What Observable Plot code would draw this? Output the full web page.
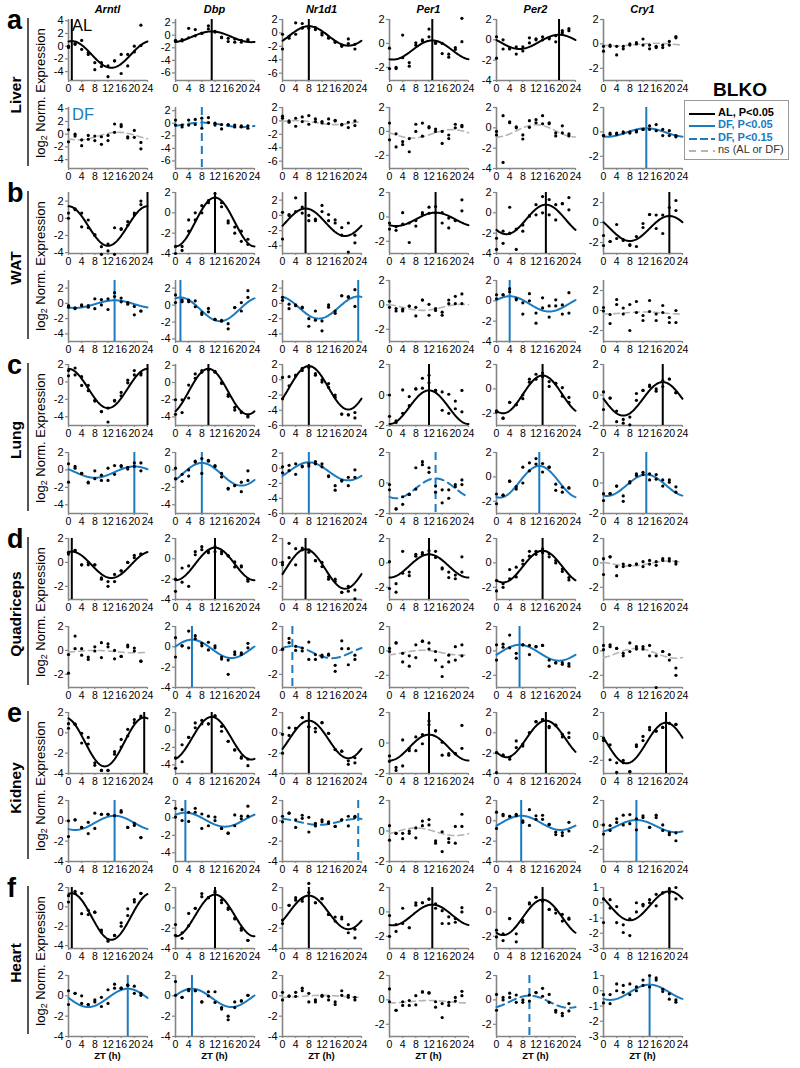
<!DOCTYPE html>
<html><head><meta charset="utf-8">
<script src="https://cdn.jsdelivr.net/npm/d3@7"></script>
<script src="https://cdn.jsdelivr.net/npm/@observablehq/plot@0.6"></script>
<style>
body{margin:0;background:#fff;font-family:"Liberation Sans",Arial,Helvetica,sans-serif;}
#page{position:relative;width:800px;height:1068px;overflow:hidden;background:#fff;}
.abs{position:absolute;white-space:nowrap;}
.rot{transform:translate(-50%,-50%) rotate(-90deg);}
.panel svg{overflow:visible;}
</style></head><body><div id="page"></div>
<script>
// ---------------- DATA ----------------
const genes = ["Arntl","Dbp","Nr1d1","Per1","Per2","Cry1"];
const tissues = ["Liver","WAT","Lung","Quadriceps","Kidney","Heart"];
const panelLetters = ["a","b","c","d","e","f"];
const diets = ["AL","DF"];
const ztTimes = [0,2,4,6,8,10,12,14,16,18,20,22];
const xTickValues = [0,4,8,12,16,20,24];
const legendLabels = ["AL, P<0.05","DF, P<0.05","DF, P<0.15","ns (AL or DF)"];
const legendKeys = ["AL","DF","DF15","ns"];

// values: per gene, two replicates per ZT (ZT0 a,b, ZT2 a,b, ...)
// fits: [mesor, amplitude, acrophase ZT]; sig: AL / DF / DF15 / ns; y: [min, max, tick step]
const liverAL_vals = [
 [0.0,-0.2, 0.4,0.3, 0.9,-0.5, -1.0,-1.3, -2.6,-3.7, -2.6,-3.2, -3.1,-4.8, -2.3,-2.3, -1.3,-4.3, -1.3,-3.1, 0.0,-0.9, 3.3,0.1],
 [-0.8,-1.0, -0.9,-0.7, 1.1,-0.4, 0.9,-0.1, 0.3,0.3, 1.5,1.0, 0.5,0.6, -0.3,-0.4, -0.5,-1.0, -0.6,-1.1, -0.8,-1.1, -0.9,-0.7],
 [-0.2,-2.4, -0.5,-0.8, 1.5,-0.2, 1.4,0.7, 1.0,0.7, 0.8,0.5, 0.0,-0.3, -0.6,-0.8, -1.4,-1.3, -2.0,-1.8, -0.9,-1.6, -2.4,-1.7],
 [-0.4,-2.1, -2.0,-2.1, 0.7,-1.2, -1.6,-1.9, 0.05,-0.15, 0.3,0.2, 1.2,0.55, 0.0,0.1, -0.85,0.0, -1.15,-0.9, -0.35,-0.5, 2.1,0.15],
 [0.3,-1.8, 0.0,-0.9, -0.8,-0.9, -0.7,-1.4, -0.7,-1.1, 0.2,-0.3, 0.1,0.0, 0.3,0.0, 0.2,0.1, 0.4,-0.2, 0.9,0.7, 1.1,0.9],
 [-0.2,-0.6, -0.1,-0.2, -0.2,-0.9, -0.2,-0.4, 0.0,-0.1, 0.1,0.0, 0.4,-0.1, -0.1,-0.4, -0.2,-0.3, -0.1,-0.3, 0.2,-0.1, 0.6,0.5]];
const liverAL_fit = [[-1.3,2.1,1],[-0.25,0.85,11],[-0.45,1.45,8],[-0.55,0.8,13],[-0.2,0.7,19],[-0.05,0.1,16]];
const liverAL_sig = ["AL","AL","AL","AL","AL","ns"];
const liverAL_y = [[-5.4,4.2,2],[-7.2,2.5,2],[-7.1,2,2],[-3.1,2,2],[-4,2,2],[-3,2,2]];

const liverDF_vals = [
 [0.7,-1.2, 0.0,-0.3, -0.9,-1.8, -0.2,-0.8, -0.3,-1.0, -0.4,-1.6, -0.2,-1.0, 1.6,0.3, 1.5,1.2, -0.4,-0.6, 0.6,-0.5, -1.3,-2.3],
 [0.5,-0.3, -0.3,-0.6, 0.5,-0.3, 0.6,-0.2, 0.8,-0.8, 0.9,0.1, 0.0,-0.3, -0.9,-0.2, -0.2,-0.3, -0.3,-0.6, -0.6,-0.4, -0.4,-0.8],
 [0.7,0.4, 0.0,-0.2, 0.4,-0.8, 0.6,-0.1, 0.8,-0.5, 0.3,-0.1, -0.1,-0.3, 0.3,-0.4, 0.0,0.1, -0.5,-0.6, -0.2,-1.0, 0.0,-0.7],
 [0.7,-0.7, -1.3,-0.2, -0.85,-1.1, -0.6,-1.7, 0.6,0.0, 0.7,-0.4, 0.4,0.3, 0.0,0.2, 0.0,-1.0, -0.3,-0.6, 0.6,0.3, 0.5,0.4],
 [-0.35,-0.7, 1.2,-3.4, 0.6,0.5, 0.1,0.0, -0.7,-1.1, 0.7,0.05, 0.8,0.5, 1.2,0.4, 0.5,0.4, -0.5,-0.8, 0.2,-0.5, -0.6,-0.8],
 [-0.3,-0.3, -0.1,-0.2, -0.1,-0.2, 0.0,-0.1, 0.0,-0.1, 0.1,0.0, 0.2,0.2, 0.5,0.2, 0.6,0.1, 0.2,-0.3, 0.1,-0.3, -0.3,-0.4]];
const liverDF_fit = [[-0.3,0.6,15],[-0.25,0.35,8],[-0.25,0.3,4],[-0.2,0.35,19],[-0.3,0.6,12],[-0.05,0.35,13]];
const liverDF_sig = ["ns","DF15","ns","ns","ns","DF"];
const liverDF_y = [[-5.4,4.2,2],[-7.2,2.5,2],[-7.1,2,2],[-3.1,2,2],[-4,2,2],[-3,2,2]];

const watAL_vals = [
 [0.6,0.0, 1.1,1.0, 0.6,-1.0, -0.2,-1.1, -1.9,-2.0, -3.3,-4.2, -3.0,-3.8, -1.1,-4.2, -1.3,-1.2, -0.4,-0.8, 0.6,0.4, 2.0,1.6],
 [-3.3,-4.0, -3.3,-3.7, -1.8,-0.7, 0.0,-0.7, 0.7,0.0, 1.2,1.0, 1.9,1.5, 1.0,0.6, -0.8,-1.0, -1.4,-2.0, -1.8,-2.8, -2.6,-3.1],
 [0.4,-3.1, 0.1,0.0, 2.3,0.5, 1.1,0.3, 0.0,-0.7, -0.5,-0.7, 1.3,0.5, 0.1,-0.7, -0.6,-1.0, -1.6,-2.6, -1.0,-4.8, -2.6,-3.6],
 [-0.5,-1.0, -1.1,-0.8, 0.35,-0.6, -0.5,-2.1, -0.3,-0.75, 0.35,0.2, 0.8,0.3, 0.85,0.35, 0.35,-0.5, -0.1,-0.9, -0.3,-0.3, 1.4,0.5],
 [-2.5,-3.6, -1.8,-3.0, 0.55,-2.0, -1.6,-3.6, -1.2,-1.8, -0.3,-0.3, 0.8,-0.2, 1.6,0.0, 1.3,-0.2, 0.8,-0.7, 0.9,0.9, 1.5,0.3],
 [-1.3,-2.3, -1.9,-1.9, -0.2,-1.6, -1.8,-1.7, -2.2,-2.3, -1.4,-2.4, -0.1,-0.5, 0.8,0.8, 0.75,-0.6, 0.75,-1.1, 1.5,0.65, 2.2,1.2]];
const watAL_fit = [[-0.9,2.3,24],[-0.9,2.4,12],[-0.9,1.8,7],[-0.2,0.55,14],[-0.65,1.45,15],[-0.6,1.25,20]];
const watAL_sig = ["AL","AL","AL","AL","AL","AL"];
const watAL_y = [[-4.1,3,2],[-4,2,2],[-5,3,2],[-3,2,2],[-4,2,2],[-3.1,3,2]];

const watDF_vals = [
 [-0.3,-0.5, -0.6,-0.7, -0.2,-0.3, -0.3,-0.5, 0.6,-0.7, 0.5,-0.2, 0.6,-0.8, 1.4,0.9, 0.7,0.2, 0.1,-0.1, -1.5,-0.4, -1.0,-1.0],
 [1.2,0.3, 0.6,0.4, 0.6,0.4, 0.5,-0.2, -0.9,-1.1, -0.4,-0.8, -1.7,-1.7, -1.9,-1.8, -2.2,-2.8, -0.3,-0.3, 0.3,-0.7, 1.7,0.9],
 [0.8,0.4, -0.1,-0.7, -0.2,-0.3, -0.5,-0.6, -2.0,-3.0, -1.0,-2.2, -2.3,-3.6, -0.2,-0.5, -1.0,-1.3, 1.0,1.0, 0.9,0.8, 1.8,-0.4],
 [0.3,-0.2, -0.5,-0.3, -0.35,-0.5, -0.1,-0.1, -0.2,-0.9, 0.4,0.4, 0.05,-0.85, -0.3,-0.45, -0.6,-0.85, 0.4,0.1, 0.7,0.1, 0.9,0.1],
 [0.6,0.2, 0.6,0.6, 1.2,0.9, 0.2,0.1, -0.2,-1.3, 0.7,0.0, -1.2,-2.2, 0.3,-0.7, -0.5,-1.6, 0.1,-0.5, -0.4,-1.3, 0.8,-1.2],
 [0.3,-0.05, -1.3,-0.4, 1.1,0.6, 0.25,-0.35, 0.6,-2.0, 0.9,-0.2, -0.5,-1.0, 1.0,-0.1, -0.35,-1.0, 0.5,-0.2, -0.7,-1.2, 0.0,-1.2]];
const watDF_fit = [[-0.1,0.5,14],[-0.5,1.4,1.5],[-0.55,1.45,23],[-0.2,0.25,22],[-0.3,0.75,4],[-0.25,0.1,12]];
const watDF_sig = ["DF","DF","DF","ns","DF","ns"];
const watDF_y = [[-5,3,2],[-4.3,2.9,2],[-5,3,2],[-3,2,2],[-4,2,2],[-3.1,3,2]];

const lungAL_vals = [
 [1.3,0.7, 1.6,0.8, 0.6,-0.4, -0.4,-1.0, -2.1,-2.2, -3.4,-3.4, -3.0,-4.6, -2.1,-2.2, -1.2,-1.6, 0.2,-0.1, 1.3,0.8, 1.0,0.8],
 [-2.0,-3.7, -3.5,-2.0, -1.8,-0.3, 1.0,0.5, 1.2,1.4, 1.5,1.5, 1.3,1.2, -0.1,0.0, -1.4,-1.6, -2.9,-3.2, -3.4,-3.5, -4.0,-3.9],
 [0.3,-2.5, 0.4,-0.8, 0.6,0.5, 1.5,1.2, 1.6,1.7, 0.8,0.6, 0.0,-0.3, -0.5,-1.0, -2.0,-2.3, -4.5,-4.5, -4.6,-4.6, -4.3,-5.0],
 [0.0,-1.4, -1.7,-1.8, 0.33,-1.2, -0.1,-0.7, 0.4,0.4, 1.1,0.45, 1.3,0.8, 0.3,0.3, 0.2,-1.0, 0.05,-1.2, -0.4,-0.9, 0.3,-1.1],
 [-1.8,-1.9, -2.4,-2.4, -1.1,-1.1, -1.3,-1.3, -0.5,-0.8, 0.8,0.55, 1.2,0.8, 1.3,1.0, 0.6,0.2, 0.45,0.45, 0.1,-0.6, -0.7,-1.1],
 [0.2,-0.95, -0.2,-0.2, -1.05,-1.75, -1.6,-1.85, -1.45,-1.95, 0.1,-0.35, 0.3,0.3, 0.65,0.55, 0.4,0.25, 0.95,0.55, 1.05,1.05, 0.15,0.15]];
const lungAL_fit = [[-0.75,2.25,24],[-1.05,2.65,10],[-1.05,2.85,8],[-0.8,1.1,12],[-0.45,1.55,14],[-0.25,1.1,18]];
const lungAL_sig = ["AL","AL","AL","AL","AL","AL"];
const lungAL_y = [[-5,2,2],[-5,2.1,2],[-6,2,2],[-2,2,2],[-3,2,2],[-2,2,2]];

const lungDF_vals = [
 [0.7,-1.4, 0.4,0.2, -0.4,-0.4, -1.5,-1.4, -0.1,-1.0, -0.6,-1.2, 0.2,-1.2, 0.5,-0.5, 0.5,0.4, 0.3,0.1, 0.8,0.4, 0.8,-0.1],
 [0.2,-1.0, -0.5,-1.3, 0.0,-0.7, 1.0,0.9, 1.3,-0.4, 1.1,1.0, 0.5,0.4, -0.4,-0.8, -2.1,-2.2, -1.8,-1.8, -1.4,-2.5, -0.1,-1.2],
 [0.2,-0.6, 0.4,-0.3, 0.6,-0.8, 0.2,0.3, 0.6,0.3, 0.9,0.6, 0.6,0.2, -1.1,-1.0, -2.3,-2.9, -1.7,-1.6, -1.2,-2.3, -0.2,-1.2],
 [-0.45,-0.1, -1.7,-1.7, -0.9,-1.4, -0.75,-0.75, 1.0,-0.4, 1.4,1.2, 0.7,1.0, -0.2,-0.6, -0.45,-1.3, -0.45,-1.0, -0.1,-0.25, 0.2,-0.1],
 [-1.4,-2.2, -1.5,-1.5, -0.35,-0.35, -0.8,-1.0, 0.8,-0.5, 1.15,0.5, 1.5,1.05, 1.1,0.4, 0.8,0.8, -0.6,-1.1, -0.85,-1.25, -0.9,-0.9],
 [-0.7,-1.15, -0.7,-0.7, -0.2,-0.2, -0.85,-1.2, 0.1,0.0, 0.6,0.5, 0.7,0.55, 0.6,0.2, 0.55,0.25, 0.2,-0.2, 0.2,0.05, -0.25,-0.6]];
const lungDF_fit = [[-0.25,0.65,20],[-0.5,1.3,8],[-0.4,1.2,8],[-0.35,0.65,14],[-0.4,1.3,13],[-0.15,0.7,13]];
const lungDF_sig = ["DF","DF","DF","DF15","DF","DF"];
const lungDF_y = [[-5,2,2],[-5,2,2],[-6,2.1,2],[-2,2,2],[-3,2,2],[-2,2,2]];

const quadAL_vals = [
 [0.85,0.7, 1.0,1.0, -0.2,-0.2, 0.0,-0.2, -0.2,-0.2, -1.3,-1.4, -1.6,-2.0, -1.0,-1.6, -0.7,-0.7, 0.0,0.0, 0.6,0.4, 0.7,0.7],
 [-2.0,-3.2, -0.9,-2.3, -0.7,-2.7, 0.7,0.4, 1.2,0.9, 0.8,0.6, 1.2,0.7, 0.7,0.5, 0.3,0.3, -0.3,-0.8, -0.7,-0.8, -2.0,-2.2],
 [0.0,-0.2, 1.6,0.4, 1.15,-0.2, 1.2,1.05, 1.05,0.85, 0.15,0.15, 0.0,-0.35, -1.2,-1.4, -1.4,-1.6, -2.5,-2.5, -2.0,-2.4, -2.3,-3.05],
 [0.1,-2.1, -1.7,-2.4, 0.95,-0.85, -0.75,-1.05, 0.7,0.55, 0.85,0.7, 1.0,0.75, 0.95,0.45, -0.4,-0.5, -0.75,-1.2, -1.3,-1.0, 0.5,-0.75],
 [-1.45,-2.3, -1.7,-2.0, -0.55,-1.3, -0.35,-1.15, 0.2,-0.1, 0.95,0.55, 0.95,0.7, 1.15,0.85, 0.75,0.5, 0.2,0.0, -0.5,-0.7, -1.2,-1.4],
 [0.35,-0.95, 0.5,0.5, -0.3,-1.05, -0.1,-0.3, -0.2,-0.2, -0.1,-0.1, 0.1,-0.3, 0.2,-0.1, 0.1,-0.2, 0.35,0.2, 0.35,0.15, 0.1,-0.1]];
const quadAL_fit = [[-0.2,1.1,1],[-0.5,1.6,12],[-0.55,1.65,7],[-0.25,0.95,12],[-0.3,1.3,14],[-0.05,0.2,20]];
const quadAL_sig = ["AL","AL","AL","AL","AL","ns"];
const quadAL_y = [[-3.1,2,2],[-4,2,2],[-3.1,2,2],[-3,2,2],[-3,2,2],[-3,2,2]];

const quadDF_vals = [
 [-0.35,-1.9, 1.2,0.15, 0.15,-0.4, -0.55,-0.75, 0.3,-0.05, 0.65,-0.6, 0.55,0.3, 0.0,-0.7, -0.5,-0.5, 0.45,0.3, 0.2,-0.05, -0.9,-0.9],
 [0.9,-1.0, 0.1,0.1, 1.55,-0.1, 1.1,0.8, 0.35,0.1, 0.45,-0.3, 0.1,-0.1, -1.0,-1.2, -1.3,-2.7, -0.5,-0.75, -0.6,-0.75, 0.35,-0.1],
 [0.1,0.1, 1.0,0.65, 0.35,0.0, 0.2,-0.05, 0.7,-0.75, -0.35,-0.75, -0.4,-0.55, -0.3,-0.4, -1.25,-1.75, 0.8,0.15, 0.15,-1.2, -0.4,-0.75],
 [0.2,-0.05, 0.65,0.65, -0.2,-0.9, -0.4,-1.25, 0.5,-0.55, 0.8,0.8, 0.65,0.15, -0.05,-0.75, -1.3,-2.1, -0.35,-0.9, 0.35,-0.75, 0.5,-0.4],
 [0.5,-0.75, 0.55,0.3, 1.3,0.25, -0.2,-0.6, 0.5,0.5, 0.45,-0.3, 0.35,0.35, 0.45,0.45, -0.75,-1.25, -0.95,-1.0, -0.95,-1.1, -1.05,-1.25],
 [0.45,0.1, 0.5,0.35, 0.2,0.2, -0.2,-0.4, 0.65,-0.05, 0.35,0.15, 0.35,0.15, 0.45,-0.4, -0.4,-3.0, -0.05,-0.05, -0.3,-0.75, -1.4,-2.0]];
const quadDF_fit = [[-0.1,0.1,8],[-0.2,0.9,5],[-0.15,0.5,3],[-0.15,0.2,10],[-0.15,0.65,7],[-0.2,0.4,10]];
const quadDF_sig = ["ns","DF","DF15","ns","DF","ns"];
const quadDF_y = [[-3.1,2,2],[-4,2,2],[-3.1,2,2],[-3,2,2],[-3,2,2],[-3,2,2]];

const kidneyAL_vals = [
 [0.9,0.45, 0.85,0.85, -0.05,-1.0, -0.45,-1.1, -2.95,-3.2, -3.7,-3.7, -3.7,-3.7, -1.85,-2.1, -0.65,-1.4, 0.35,-0.3, 1.3,1.0, 1.65,1.5],
 [-3.2,-4.4, -1.7,-3.65, -0.85,-0.85, 0.8,0.25, 1.1,0.7, 0.7,0.7, 1.65,1.55, 0.4,-0.15, -1.3,-1.3, -2.3,-2.3, -3.1,-3.25, -3.35,-4.1],
 [-0.15,-2.0, 0.5,-0.25, 0.45,0.45, 1.5,1.5, 0.6,0.6, 0.45,0.1, 1.0,1.0, -0.05,-0.05, -1.65,-1.65, -1.8,-1.8, -2.75,-3.1, -2.45,-2.95],
 [-0.85,-1.2, -1.6,-1.8, 0.2,-1.5, -0.35,-0.5, 0.4,-0.5, 0.55,-0.05, 1.45,1.2, 0.8,0.8, 0.05,-0.8, -0.7,-0.8, -0.7,-0.7, 1.15,-0.35],
 [-1.95,-3.9, -2.2,-2.2, -2.4,-2.6, -0.8,-1.45, -1.1,-1.3, 0.0,0.0, 1.1,1.1, 1.3,1.3, 0.65,0.5, 0.75,0.75, -0.15,-0.4, 0.0,-0.45],
 [-0.15,-0.35, -0.7,-1.95, -2.2,-3.0, -2.0,-2.2, -2.95,-2.95, -0.7,-0.85, 0.0,-0.35, 0.75,0.55, 0.45,0.45, 0.75,0.75, 1.1,1.1, 1.0,1.0]];
const kidneyAL_fit = [[-0.9,2.4,23],[-0.95,2.45,11],[-0.65,1.85,8],[-0.3,0.85,12],[-0.6,1.8,15],[-0.55,1.7,19]];
const kidneyAL_sig = ["AL","AL","AL","AL","AL","AL"];
const kidneyAL_y = [[-4,2,2],[-5,2,2],[-4,2,2],[-2,2,2],[-4,2,2],[-3.1,2,2]];

const kidneyDF_vals = [
 [0.0,-1.55, 0.1,0.1, -0.65,-0.65, -0.15,-1.25, 0.75,-0.75, 0.65,0.65, 0.65,0.65, 0.5,0.5, 1.0,0.85, -0.65,-0.65, -0.25,-0.45, -1.65,-1.65],
 [1.1,0.1, 0.95,-0.3, 0.65,-0.4, 1.1,0.65, 0.45,-1.2, 0.2,-0.9, 0.1,-0.3, -1.2,-1.2, -1.75,-1.75, 0.35,-0.9, 0.2,-0.1, 1.35,0.2],
 [0.45,-0.1, 0.75,0.75, 0.1,-0.65, 0.55,0.25, 0.35,-1.1, -0.25,-0.5, 0.1,-0.1, -0.1,-0.25, -0.55,-0.55, 0.1,0.1, 0.45,-0.5, 0.45,0.35],
 [0.35,-0.6, -0.15,-0.15, -0.15,-0.5, 0.0,-0.15, 0.2,-0.45, 0.65,0.35, 0.75,0.4, -0.65,-0.8, -0.05,-1.35, -0.5,-0.75, 0.3,-0.8, 1.1,0.3],
 [0.85,-0.75, 0.65,0.5, 0.45,0.45, 0.65,0.5, 0.0,-0.15, 1.1,-0.45, 0.5,0.15, 0.55,0.15, -0.35,-0.35, -1.1,-1.35, -1.15,-1.45, -0.15,-1.0],
 [0.0,-0.75, -0.05,-0.45, 0.5,0.2, 0.8,0.0, 0.85,0.1, 0.5,-0.4, 0.75,0.6, -0.2,-0.2, 0.8,0.6, 0.0,-0.45, -0.65,-0.8, -0.65,-1.3]];
const kidneyDF_fit = [[-0.2,0.7,14],[-0.2,0.8,3],[-0.1,0.3,23],[-0.05,0.25,8],[-0.2,0.7,7.5],[-0.1,0.5,10]];
const kidneyDF_sig = ["DF","DF","DF15","ns","DF","DF"];
const kidneyDF_y = [[-4,2,2],[-5,2,2],[-4,2,2],[-2,2,2],[-4,2,2],[-3,2,2]];

const heartAL_vals = [
 [1.15,0.5, 1.6,1.4, 1.4,-0.7, -0.35,-0.8, -0.55,-0.55, -2.4,-2.6, -3.4,-3.55, -2.95,-2.95, -1.65,-2.0, -0.2,-0.9, 0.75,0.5, 1.4,1.4],
 [-1.65,-2.7, -2.45,-3.0, -0.55,-1.75, -0.05,-0.05, 1.4,1.1, 1.0,1.0, 1.65,1.5, 0.75,0.5, 0.0,-0.15, -1.0,-1.1, -2.0,-2.2, -3.2,-3.2],
 [-1.2,-1.55, 0.25,0.25, 1.0,0.75, 0.9,0.65, 2.4,1.5, 0.5,0.5, 0.9,0.9, -0.65,-0.65, -0.9,-1.3, -0.9,-1.1, -1.65,-2.45, -2.1,-2.95],
 [-0.3,-2.0, -1.05,-1.6, 0.3,-0.95, -1.3,-1.3, 0.75,0.55, 0.75,0.75, 1.05,1.05, 0.65,0.3, 0.1,-0.95, -0.4,-0.95, -0.55,-0.85, 0.35,0.0],
 [-1.5,-2.05, -1.8,-2.35, -0.55,-0.55, -1.8,-2.45, -0.7,-0.85, 0.75,0.65, 1.2,1.2, 0.9,0.9, 0.2,0.2, 0.2,-0.1, -0.2,-0.75, -0.5,-0.6],
 [0.25,-1.3, 0.2,-0.35, -0.25,-1.3, -1.45,-1.95, -1.05,-2.15, 0.0,-0.6, -0.1,-0.2, 0.2,0.0, 0.55,-0.2, 0.65,0.65, 0.9,0.65, 1.0,0.25]];
const heartAL_fit = [[-1.0,2.4,1],[-0.75,2.05,12],[-0.45,1.65,8],[-0.25,0.85,13],[-0.45,1.45,14],[-0.2,0.95,20]];
const heartAL_sig = ["AL","AL","AL","AL","AL","AL"];
const heartAL_y = [[-4.3,2,2],[-4,2,2],[-4,2,2],[-3,2,2],[-3,2,2],[-3,1,1]];

const heartDF_vals = [
 [0.5,-0.85, 0.25,0.25, 0.0,-0.75, -0.85,-0.85, -0.4,-0.6, -0.15,-1.05, 0.6,-0.75, 1.15,0.75, 0.75,0.75, 1.05,1.05, 0.95,0.25, 0.25,0.05],
 [1.4,0.05, -0.15,-0.15, 0.65,0.5, 0.5,0.5, -0.6,-0.6, 0.4,0.0, 0.4,-0.65, -1.15,-1.3, -2.0,-2.35, -0.6,-1.15, -0.5,-0.5, 0.05,0.05],
 [0.35,-0.4, 0.0,-0.05, 0.35,-0.05, 0.75,0.5, 0.25,-0.6, -0.4,-0.6, 0.05,-0.05, -0.05,-0.4, -0.6,-0.85, 0.5,0.05, 0.05,-0.15, -0.15,-0.4],
 [0.9,-0.15, -0.85,-0.85, -0.15,-0.45, -0.05,-0.45, 0.35,-0.4, 0.65,0.65, 0.6,0.55, -0.15,-0.6, -0.3,-1.45, -0.2,-0.45, 0.2,-0.1, 0.7,0.35],
 [0.45,-0.85, 0.2,0.0, 0.55,0.2, 0.4,-0.2, 0.0,-0.2, 0.4,-0.1, 0.6,0.6, 0.95,0.3, 0.45,-0.2, -0.85,-1.0, -1.1,-1.3, -0.3,-0.9],
 [-0.25,-0.8, -0.25,-0.85, 0.45,0.0, 0.35,-0.1, 0.45,-0.25, 0.25,0.0, 0.7,0.35, 1.0,0.25, 0.85,0.7, 0.1,-0.05, -0.2,-0.55, -0.6,-0.75]];
const heartDF_fit = [[-0.2,0.9,18],[-0.2,0.9,5],[-0.05,0.1,12],[-0.15,0.1,12],[-0.15,0.5,10],[-0.1,0.5,14]];
const heartDF_sig = ["DF","DF","ns","ns","DF15","DF"];
const heartDF_y = [[-4,2,2],[-4,2,2],[-4,2,2],[-3,2,2],[-3,2,2],[-3,1,1]];

// table assembled from the arrays above
const panelTable = [
  {AL:[liverAL_vals,liverAL_fit,liverAL_sig,liverAL_y], DF:[liverDF_vals,liverDF_fit,liverDF_sig,liverDF_y]},
  {AL:[watAL_vals,watAL_fit,watAL_sig,watAL_y], DF:[watDF_vals,watDF_fit,watDF_sig,watDF_y]},
  {AL:[lungAL_vals,lungAL_fit,lungAL_sig,lungAL_y], DF:[lungDF_vals,lungDF_fit,lungDF_sig,lungDF_y]},
  {AL:[quadAL_vals,quadAL_fit,quadAL_sig,quadAL_y], DF:[quadDF_vals,quadDF_fit,quadDF_sig,quadDF_y]},
  {AL:[kidneyAL_vals,kidneyAL_fit,kidneyAL_sig,kidneyAL_y], DF:[kidneyDF_vals,kidneyDF_fit,kidneyDF_sig,kidneyDF_y]},
  {AL:[heartAL_vals,heartAL_fit,heartAL_sig,heartAL_y], DF:[heartDF_vals,heartDF_fit,heartDF_sig,heartDF_y]}
];

// ---------------- STYLE / LAYOUT ----------------
const FONT = '"Liberation Sans", Arial, Helvetica, sans-serif';
const BLUE = "#1b7bc1";
const AXIS = "#858585";
const sigStyle = {
  AL:   {stroke:"#000", width:2, dash:null, rule:true},
  DF:   {stroke:BLUE, width:2, dash:null, rule:true},
  DF15: {stroke:BLUE, width:2, dash:"8,5", rule:true},
  ns:   {stroke:"#b5b5b5", width:1.6, dash:"6,4", rule:false}
};
const PW = 79, PH = 61, ML = 30, MR = 8, MT = 4, MB = 18;
const colX = [68, 175, 282, 389, 496, 603];
const blockTop = [19, 192, 364, 538, 712, 887];
const dfOffset = 88;

const page = document.getElementById("page");
function addDiv(html, css, cls) {
  const d = document.createElement("div");
  d.className = "abs " + (cls || "");
  d.innerHTML = html;
  Object.assign(d.style, css);
  page.appendChild(d);
  return d;
}
const fmt = d => (d < 0 ? "-" + Math.abs(d) : String(d));

function buildPanel(vals, fit, sig, yr) {
  const [lo, hi, step] = yr;
  const yTicks = d3.range(Math.ceil(lo / step - 1e-9) * step, hi + 1e-9, step);
  const [M, A, phi] = fit;
  const curve = d3.range(0, 24.0001, 0.2).map(t => ({t, y: M + A * Math.cos(2 * Math.PI * (t - phi) / 24)}));
  const pts = vals.map((v, i) => ({t: ztTimes[i >> 1], v}));
  const s = sigStyle[sig];
  const marks = [
    Plot.axisX(xTickValues, {label: null, tickSize: 2, tickPadding: 2, stroke: AXIS, fill: "#000", strokeWidth: 1.2, fontSize: 10.5}),
    Plot.axisY(yTicks, {label: null, tickSize: 3, tickPadding: 2, stroke: AXIS, fill: "#000", strokeWidth: 1.2, tickFormat: fmt}),
    Plot.ruleX([0], {stroke: AXIS, strokeWidth: 1.6}),
    Plot.ruleY([lo], {stroke: AXIS, strokeWidth: 1.6}),
    Plot.line(curve, {x: "t", y: "y", stroke: s.stroke, strokeWidth: s.width, strokeDasharray: s.dash || undefined, curve: "linear"}),
  ];
  if (s.rule) marks.push(Plot.ruleX([phi], {stroke: s.stroke, strokeWidth: 2, strokeDasharray: s.dash || undefined}));
  marks.push(Plot.dot(pts, {x: "t", y: "v", r: 1.6, fill: "#000", stroke: "none"}));
  return Plot.plot({
    width: ML + PW + MR, height: MT + PH + MB,
    marginLeft: ML, marginRight: MR, marginTop: MT, marginBottom: MB,
    style: {fontFamily: FONT, fontSize: "11px", color: "#000", background: "transparent", overflow: "visible"},
    x: {domain: [0, 24], label: null},
    y: {domain: [lo, hi], label: null},
    marks
  });
}

// panels
tissues.forEach((tissue, k) => {
  diets.forEach((diet, r) => {
    const [vals, fits, sigs, ys] = panelTable[k][diet];
    genes.forEach((g, j) => {
      const svg = buildPanel(vals[j], fits[j], sigs[j], ys[j]);
      const wrap = document.createElement("div");
      wrap.className = "abs panel";
      wrap.style.left = (colX[j] - ML) + "px";
      wrap.style.top = (blockTop[k] + r * dfOffset - MT) + "px";
      wrap.appendChild(svg);
      page.appendChild(wrap);
    });
  });
  addDiv(panelLetters[k], {left: "7px", top: (blockTop[k] - 14) + "px", fontSize: "27px", fontWeight: "bold", lineHeight: "30px"});
  addDiv(tissue, {left: "16px", top: (blockTop[k] + 76) + "px", fontSize: "15.5px", fontWeight: "bold"}, "rot");
  addDiv("", {left: "27px", top: (blockTop[k] - 1) + "px", width: "1.5px", height: "148px", background: "#555"});
  addDiv('log<sub style="font-size:9px;vertical-align:-2px">2</sub> Norm. Expression', {left: "41px", top: (blockTop[k] + 74) + "px", fontSize: "13px"}, "rot");
});

// gene titles and ZT labels
genes.forEach((g, j) => {
  addDiv(g, {left: (colX[j] + PW / 2) + "px", top: "3px", transform: "translateX(-50%)", fontSize: "11px", fontWeight: "bold", fontStyle: "italic"});
  addDiv("ZT (h)", {left: (colX[j] + PW / 2) + "px", top: "1050px", transform: "translateX(-50%)", fontSize: "9.5px", fontWeight: "bold"});
});

// AL / DF tags
addDiv("AL", {left: "72px", top: "16px", fontSize: "16.5px", color: "#000"});
addDiv("DF", {left: "72px", top: "105px", fontSize: "16.5px", color: BLUE});

// legend
addDiv("BLKO", {left: "740px", top: "79px", transform: "translateX(-50%)", fontSize: "19px", fontWeight: "bold"});
addDiv("", {left: "684px", top: "100px", width: "103px", height: "58px", border: "1.5px solid #999"});
legendKeys.forEach((key, i) => {
  const s = sigStyle[key];
  const y = 113 + i * 12.3;
  const col = key === "AL" ? "#000" : key === "ns" ? "#333" : BLUE;
  addDiv(`<svg width="26" height="6"><line x1="0" x2="26" y1="3" y2="3" stroke="${s.stroke}" stroke-width="2" ${s.dash ? `stroke-dasharray="${key === "ns" ? "7,5" : "8,3"}"` : ""}/></svg>`,
    {left: "689px", top: (y - 4) + "px", lineHeight: "6px"});
  addDiv(legendLabels[i], {left: "718px", top: (y - 7) + "px", fontSize: "11px", fontWeight: key === "ns" ? "normal" : "bold", color: col, lineHeight: "13px"});
});
</script>
</body></html>
